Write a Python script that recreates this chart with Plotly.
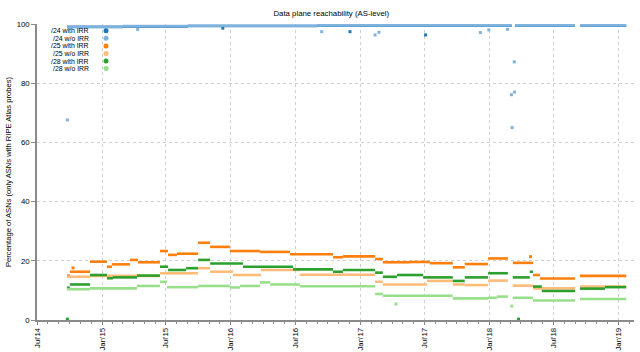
import plotly.graph_objects as go

# ---------------- data ----------------
series_names = ["/24 with IRR", "/24 w/o IRR", "/25 with IRR", "/25 w/o IRR", "/28 with IRR", "/28 w/o IRR"]
series_colors = ["#1f77b4", "#7db2de", "#ff7f0e", "#ffbb78", "#2ca02c", "#98df8a"]

# each series: level segments (breaks[i] -> breaks[i+1] at levels[i]; None = no data)
p24_irr_breaks = ["2014-09-24", "2015-03-01", "2015-09-01", "2016-09-01", "2018-03-06", "2018-03-15",
                  "2018-09-01", "2018-09-15", "2019-01-24"]
p24_irr_levels = [99.0, 99.2, 99.3, 99.4, None, 99.4, None, 99.4]

p24_noirr_breaks = ["2014-09-24", "2015-03-01", "2015-09-01", "2016-09-01", "2018-03-06", "2018-03-15",
                    "2018-09-01", "2018-09-15", "2019-01-24"]
p24_noirr_levels = [99.1, 99.3, 99.4, 99.5, None, 99.5, None, 99.5]

p25_irr_breaks = ["2014-09-24", "2014-10-02", "2014-11-28", "2015-01-15", "2015-01-29", "2015-03-21",
                  "2015-04-13", "2015-06-14", "2015-07-07", "2015-08-01", "2015-09-30", "2015-11-03",
                  "2015-12-29", "2016-03-23", "2016-06-16", "2016-10-16", "2016-11-13", "2017-02-12",
                  "2017-03-06", "2017-05-22", "2017-07-17", "2017-09-20", "2017-10-24", "2017-12-29",
                  "2018-02-23", "2018-03-09", "2018-05-05", "2018-05-25", "2018-09-01", "2018-09-15",
                  "2019-01-24"]
p25_irr_levels = [15.0, 16.3, 19.7, 18.0, 18.8, 20.3, 19.5, 23.3, 22.0, 22.4, 26.1, 24.7, 23.3, 23.0,
                  22.2, 21.2, 21.5, 20.6, 19.5, 19.6, 19.2, 17.8, 18.9, 20.8, None, 19.3, 15.2, 14.0,
                  None, 14.9]

p25_noirr_breaks = ["2014-09-24", "2014-11-28", "2015-06-14", "2015-09-30", "2015-11-03", "2016-01-07",
                    "2016-03-26", "2016-07-14", "2017-02-12", "2017-03-06", "2017-07-09", "2017-09-20",
                    "2017-10-24", "2017-12-29", "2018-02-23", "2018-03-09", "2018-05-05", "2018-09-01",
                    "2018-09-15", "2019-01-24"]
p25_noirr_levels = [14.6, 14.9, 15.8, 17.5, 16.3, 15.2, 16.9, 15.3, 12.9, 12.0, 13.2, 12.0, 11.8, 13.3,
                    None, 11.6, 10.7, None, 11.3]

p28_irr_breaks = ["2014-09-24", "2014-10-02", "2014-11-28", "2015-01-15", "2015-02-01", "2015-04-10",
                  "2015-06-14", "2015-07-07", "2015-08-27", "2015-09-30", "2015-11-03", "2016-02-04",
                  "2016-06-25", "2016-10-16", "2016-11-13", "2017-02-12", "2017-03-06", "2017-04-15",
                  "2017-06-28", "2017-09-20", "2017-10-24", "2017-12-29", "2018-02-23", "2018-03-09",
                  "2018-04-26", "2018-05-05", "2018-05-30", "2018-09-01", "2018-09-15", "2018-11-25",
                  "2019-01-24"]
p28_irr_levels = [10.9, 12.0, 15.2, 14.1, 14.4, 15.0, 18.0, 16.9, 17.5, 20.3, 19.1, 18.0, 17.1, 16.3,
                  16.9, 16.0, 14.6, 15.2, 14.4, 13.2, 14.4, 15.8, None, 14.4, 16.3, 11.3, 9.8, None,
                  10.6, 11.1]

p28_noirr_breaks = ["2014-09-24", "2014-11-28", "2015-04-10", "2015-06-14", "2015-07-04", "2015-09-30",
                    "2015-12-29", "2016-01-27", "2016-03-23", "2016-04-21", "2016-07-14", "2017-02-12",
                    "2017-03-06", "2017-09-20", "2017-12-29", "2018-01-23", "2018-02-23", "2018-03-09",
                    "2018-05-05", "2018-09-01", "2018-09-15", "2019-01-24"]
p28_noirr_levels = [10.4, 10.7, 11.5, 12.9, 11.1, 11.5, 11.0, 11.5, 12.7, 12.0, 11.4, 8.8, 8.2, 7.3,
                    7.5, 7.9, None, 7.5, 6.6, None, 7.1]

# isolated measurements
p24_irr_out_dates = ["2015-12-09", "2016-12-03", "2017-07-05"]
p24_irr_out_vals = [98.6, 97.4, 96.3]
p24_noirr_out_dates = ["2014-09-25", "2015-04-12", "2016-09-14", "2017-02-12", "2017-02-23", "2017-12-07",
                       "2017-12-31", "2018-02-22", "2018-03-05", "2018-03-07", "2018-03-13", "2018-03-14"]
p24_noirr_out_vals = [67.6, 98.2, 97.4, 96.3, 97.2, 97.1, 98.0, 98.2, 76.1, 65.0, 87.2, 77.0]
p25_irr_out_dates = ["2014-10-11", "2018-04-28"]
p25_irr_out_vals = [17.6, 21.4]
p25_noirr_out_dates = []
p25_noirr_out_vals = []
p28_irr_out_dates = ["2014-09-25", "2018-03-25"]
p28_irr_out_vals = [0.3, 0.3]
p28_noirr_out_dates = ["2017-04-12", "2018-03-06"]
p28_noirr_out_vals = [5.4, 4.7]

y_tick_vals = [0, 20, 40, 60, 80, 100]

all_breaks = [p24_irr_breaks, p24_noirr_breaks, p25_irr_breaks, p25_noirr_breaks, p28_irr_breaks, p28_noirr_breaks]
all_levels = [p24_irr_levels, p24_noirr_levels, p25_irr_levels, p25_noirr_levels, p28_irr_levels, p28_noirr_levels]
all_out_d = [p24_irr_out_dates, p24_noirr_out_dates, p25_irr_out_dates, p25_noirr_out_dates,
             p28_irr_out_dates, p28_noirr_out_dates]
all_out_v = [p24_irr_out_vals, p24_noirr_out_vals, p25_irr_out_vals, p25_noirr_out_vals,
             p28_irr_out_vals, p28_noirr_out_vals]

fig = go.Figure()
for name, color, br, lv, od, ov in zip(series_names, series_colors, all_breaks, all_levels, all_out_d, all_out_v):
    xs, ys = [], []
    for i, v in enumerate(lv):
        if v is None:
            continue
        xs += [br[i], br[i + 1], None]
        ys += [v, v, None]
    fig.add_trace(go.Scatter(x=xs, y=ys, mode="lines", name=name,
                             line=dict(color=color, width=2.6), connectgaps=False,
                             showlegend=False, hoverinfo="skip"))
    if od:
        fig.add_trace(go.Scatter(x=od, y=ov, mode="markers", name=name,
                                 marker=dict(color=color, size=3, symbol="square"),
                                 showlegend=False))

FONT = "Liberation Sans, Arial, Helvetica, sans-serif"
AX = "#8a8a8a"
GRID = "#cfcfcf"

fig.update_layout(
    width=640, height=352,
    margin=dict(l=37, r=6, t=24, b=32),
    paper_bgcolor="white", plot_bgcolor="white",
    showlegend=False,
    font=dict(family=FONT, size=8, color="#000000"),
    title=dict(text="Data plane reachability (AS-level)", font=dict(family=FONT, size=7.8, color="#000"),
               x=0.493, xref="paper", xanchor="center", y=1 - 13 / 352, yref="container", yanchor="middle"),
)

fig.update_xaxes(
    type="date", range=["2014-07-01", "2019-02-15"], automargin=False,
    tickmode="linear", tick0="2014-07-01", dtick="M6", tickformat="%b'%y", tickangle=-90,
    tickfont=dict(family=FONT, size=7.8),
    showgrid=True, gridcolor=GRID, griddash="dot", gridwidth=1,
    showline=True, linecolor=AX, linewidth=1.5,
    ticks="outside", ticklen=3, tickcolor=AX, tickwidth=1,
    minor=dict(dtick="M1", ticks="outside", ticklen=2, tickcolor=AX, showgrid=False),
    zeroline=False,
)
fig.update_yaxes(
    range=[0, 100], tickmode="array", tickvals=y_tick_vals, automargin=False,
    tickfont=dict(family=FONT, size=7.8),
    showgrid=True, gridcolor=GRID, griddash="dot", gridwidth=1,
    showline=True, linecolor=AX, linewidth=1.5,
    ticks="outside", ticklen=4, tickcolor=AX,
    zeroline=False,
    title=dict(text="Percentage of ASNs (only ASNs with RIPE Atlas probes)",
               font=dict(family=FONT, size=7.6), standoff=4),
)

# legend (text right-aligned, marker to the right) drawn in paper space
leg_text_x = 0.0888
leg_mark_x = 0.1156
leg_y0 = 0.977
leg_dy = 0.0255
for k, (name, color) in enumerate(zip(series_names, series_colors)):
    yy = leg_y0 - k * leg_dy
    fig.add_annotation(text=name, x=leg_text_x, y=yy, xref="paper", yref="paper",
                       xanchor="right", yanchor="middle", showarrow=False, borderpad=0,
                       font=dict(family=FONT, size=6.9, color="#000"))
    fig.add_shape(type="circle", xref="paper", yref="paper", xsizemode="pixel", ysizemode="pixel",
                  xanchor=leg_mark_x, yanchor=yy, x0=-2.5, x1=2.5, y0=-2.5, y1=2.5,
                  fillcolor=color, line=dict(width=0))

fig.write_html("out.html")
